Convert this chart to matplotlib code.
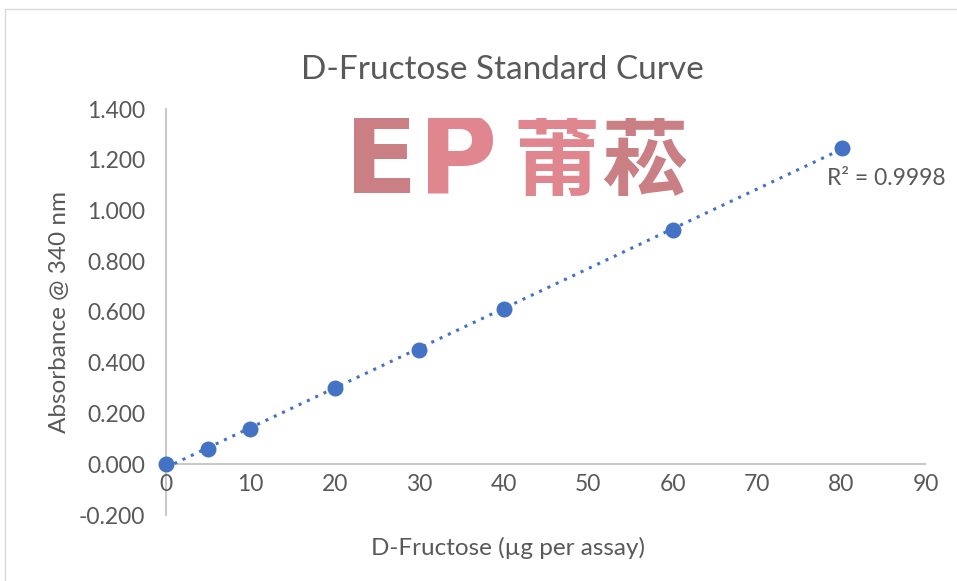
import matplotlib.pyplot as plt
import numpy as np
from matplotlib.patches import Rectangle

plt.rcParams['font.family'] = ['Lato', 'Noto Sans CJK SC', 'DejaVu Sans']

fructose = [0, 5, 10, 20, 30, 40, 60, 80]
absorbance = [0.000, 0.062, 0.140, 0.302, 0.450, 0.612, 0.925, 1.248]
r2_label = "R² = 0.9998"

x_ticks = [0, 10, 20, 30, 40, 50, 60, 70, 80, 90]
y_ticks = [-0.2, 0.0, 0.2, 0.4, 0.6, 0.8, 1.0, 1.2, 1.4]

blue = '#4472C4'
grey_text = '#595959'
axis_grey = '#BFBFBF'

fig = plt.figure(figsize=(9.57, 5.81), dpi=100)
fig.patch.set_facecolor('white')

# chart border like the Excel chart area
fig.patches.append(Rectangle((5 / 957, -0.01), 1.1, 1 - 9 / 581 + 0.01,
                             transform=fig.transFigure, fill=False,
                             edgecolor='#D9D9D9', linewidth=1))

ax = fig.add_axes([166 / 957, 1 - 515 / 581, (926 - 166) / 957, (515 - 109) / 581])
ax.set_xlim(0, 90)
ax.set_ylim(-0.2, 1.4)

# watermark logo, cropped to its box
wm = Rectangle((343 / 957, 1 - 208 / 581), (686 - 343) / 957, (208 - 118) / 581,
               transform=fig.transFigure, facecolor='white', edgecolor='none', zorder=0)
fig.patches.append(wm)
logo = [("E", 381, 78, '#C97F84', ['DejaVu Sans']),
        ("P", 458, 78, '#E0868E', ['DejaVu Sans']),
        ("莆", 557, 62, '#E0868E', ['Noto Sans CJK SC']),
        ("菘", 644, 62, '#C97F84', ['Noto Sans CJK SC'])]
for ch, px, fs, col, fam in logo:
    t = fig.text(px / 957, 1 - 163 / 581, ch, ha='center', va='center',
                 fontsize=fs, fontweight='bold', color=col, family=fam)
    t.set_clip_path(wm)

# linear trendline
slope, intercept = np.polyfit(fructose, absorbance, 1)
xs = np.array([fructose[0], fructose[-1]])
ax.plot(xs, slope * xs + intercept, linestyle=(0, (1, 2)), color=blue,
        linewidth=2.2, zorder=3)
ax.scatter(fructose, absorbance, s=110, color=blue, zorder=4, clip_on=False)

ax.text(78.3, 1.128, r2_label, ha='left', va='center', fontsize=16.5, color=grey_text)

for s in ['top', 'right', 'bottom']:
    ax.spines[s].set_visible(False)
ax.spines['left'].set_color(axis_grey)
ax.spines['left'].set_linewidth(1.2)
ax.axhline(0, color=axis_grey, linewidth=1.2, zorder=1)

ax.set_xticks(x_ticks)
ax.set_yticks(y_ticks)
ax.set_yticklabels([f"{v:.3f}" for v in y_ticks])
ax.tick_params(axis='both', length=0, labelsize=16.5, labelcolor=grey_text)
ax.tick_params(axis='y', pad=15)
# x tick labels sit just under the zero line
ax.set_xticklabels([])
for xv in x_ticks:
    ax.text(xv, -0.04, str(xv), ha='center', va='top', fontsize=16.5, color=grey_text)

# title and axis titles are centred on the chart area, not the plot area
fig.text(502 / 957, 1 - 70 / 581, "D-Fructose Standard Curve", ha='center', va='center',
         fontsize=24, color=grey_text)
fig.text(508 / 957, 1 - 548 / 581, "D-Fructose (µg per assay)", ha='center', va='center',
         fontsize=17.5, color=grey_text)
fig.text(60 / 957, 1 - 312 / 581, "Absorbance @ 340 nm", ha='center', va='center',
         rotation=90, fontsize=17.5, color=grey_text)

fig.savefig('out.png', dpi=100)
